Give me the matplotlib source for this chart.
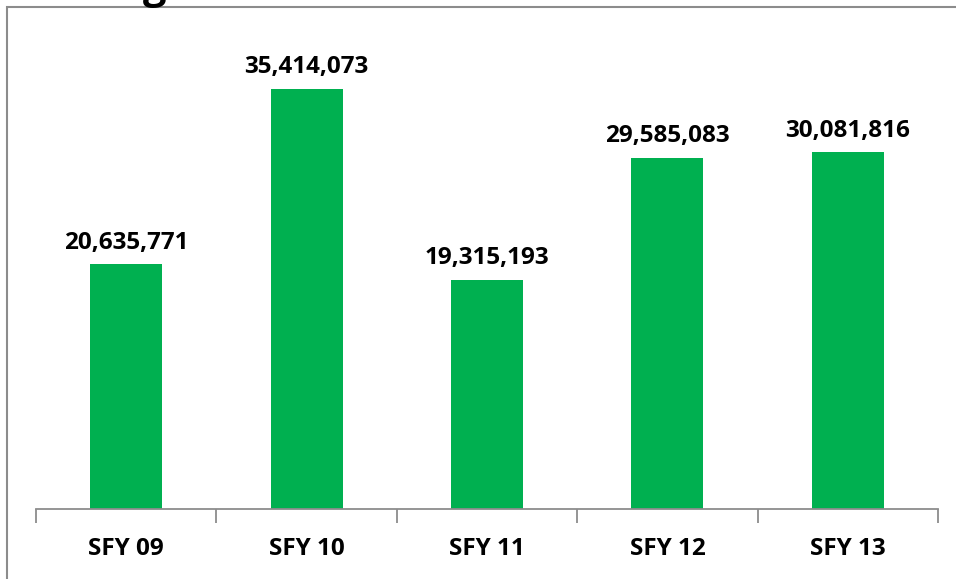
import matplotlib.pyplot as plt
from matplotlib.patches import Rectangle

years = ['SFY 09', 'SFY 10', 'SFY 11', 'SFY 12', 'SFY 13']
values = [20635771, 35414073, 19315193, 29585083, 30081816]

W, H = 956, 579
fig = plt.figure(figsize=(W / 100, H / 100), dpi=100)
plt.rcParams['font.family'] = ['Open Sans', 'DejaVu Sans']

# chart border (cut off at right and bottom like the screenshot)
fig.patches.append(Rectangle((7 / W, -20 / H), (W + 40) / W, (H - 7 + 20) / H,
                             transform=fig.transFigure, fill=False,
                             edgecolor='#8c8c8c', linewidth=1.5))
# bit of the title peeking in at the top
fig.text(155 / W, 1.0 + 2 / H, 'g', fontsize=30, fontweight='bold',
         ha='center', va='baseline')

ymax = 40000000
top_px = 509 - 420 * ymax / 35414073
ax = fig.add_axes([36 / W, 1 - 509 / H, (938 - 36) / W, (509 - top_px) / H])

x = range(len(years))
bars = ax.bar(x, values, width=0.4, color='#00B050')
for b, v in zip(bars, values):
    ax.annotate(f'{v:,}', (b.get_x() + b.get_width() / 2, v), xytext=(0, 7),
                textcoords='offset points', ha='center', va='bottom',
                fontsize=17.5, fontweight='bold')

ax.set_xlim(-0.5, len(years) - 0.5)
ax.set_ylim(0, ymax)
ax.set_xticks(list(x))
ax.set_xticklabels(years, fontsize=17.5, fontweight='bold')
ax.set_xticks([i - 0.5 for i in range(len(years) + 1)], minor=True)
ax.tick_params(axis='x', which='major', length=0, pad=20)
ax.tick_params(axis='x', which='minor', length=10, width=1.3, color='#8c8c8c')
ax.set_yticks([])
for s in ['top', 'right', 'left']:
    ax.spines[s].set_visible(False)
ax.spines['bottom'].set_color('#8c8c8c')
ax.spines['bottom'].set_linewidth(1.3)

fig.savefig('out.png', dpi=100)
